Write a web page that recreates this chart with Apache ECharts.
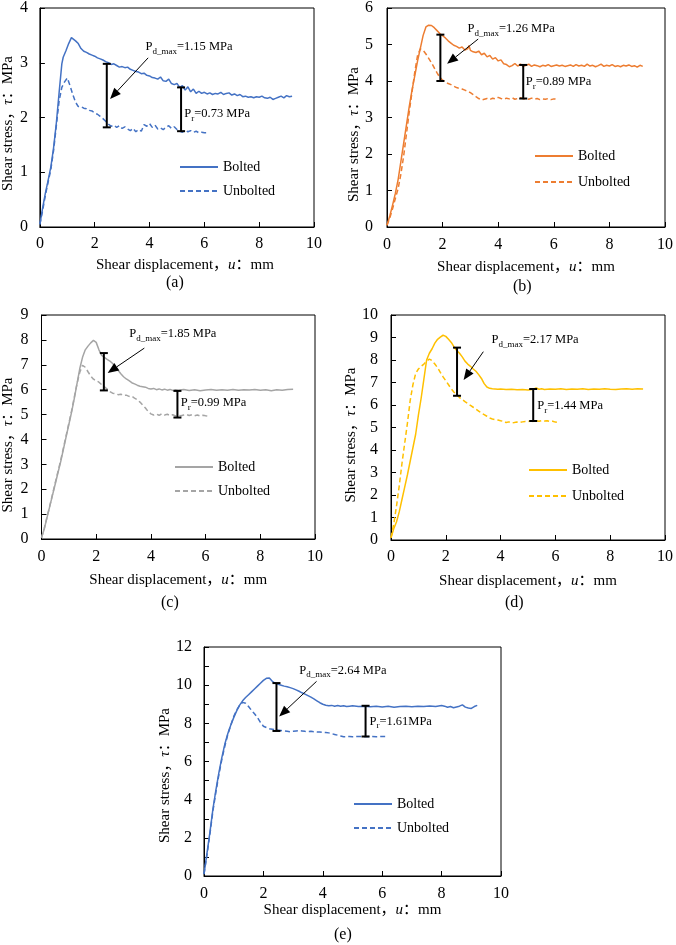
<!DOCTYPE html>
<html><head><meta charset="utf-8">
<script src="https://cdn.jsdelivr.net/npm/echarts@6/dist/echarts.min.js"></script>
<style>html,body{margin:0;padding:0;background:#fff}#c{width:676px;height:945px}</style>
</head><body><div id="c"></div>
<script>
// ---------- data ----------
const xTicks = [0, 2, 4, 6, 8, 10];

// (a)
const a_yMax = 4;
const a_bolted = [[0,0.05],[0.1,0.35],[0.2,0.62],[0.3,0.85],[0.4,1.1],[0.5,1.45],[0.6,1.9],[0.7,2.45],[0.8,2.98],[0.85,3.1],[0.95,3.22],[1.05,3.35],[1.15,3.46],[1.2,3.48],[1.3,3.4],[1.4,3.35],[1.5,3.26],[1.6,3.21],[1.7,3.19],[1.8,3.16],[1.9,3.14],[2.0,3.12],[2.1,3.09],[2.2,3.07],[2.3,3.05],[2.4,3.02],[2.5,3.0],[2.6,2.97],[2.7,2.98],[2.8,2.95],[2.9,2.92],[3.0,2.93],[3.1,2.91],[3.2,2.92],[3.3,2.88],[3.4,2.86],[3.5,2.84],[3.6,2.83],[3.7,2.8],[3.8,2.81],[3.9,2.77],[4.0,2.76],[4.1,2.73],[4.2,2.72],[4.3,2.7],[4.4,2.74],[4.5,2.67],[4.6,2.66],[4.7,2.7],[4.8,2.62],[4.9,2.6],[5.0,2.62],[5.1,2.55],[5.2,2.58],[5.3,2.5],[5.4,2.56],[5.5,2.47],[5.6,2.52],[5.7,2.44],[5.8,2.48],[5.9,2.44],[6.0,2.46],[6.1,2.43],[6.2,2.45],[6.3,2.42],[6.4,2.44],[6.5,2.43],[6.6,2.46],[6.7,2.42],[6.8,2.44],[6.9,2.45],[7.0,2.41],[7.1,2.43],[7.2,2.4],[7.3,2.42],[7.4,2.38],[7.5,2.39],[7.6,2.37],[7.7,2.38],[7.8,2.36],[7.9,2.38],[8.0,2.37],[8.1,2.39],[8.2,2.36],[8.3,2.35],[8.4,2.37],[8.5,2.33],[8.6,2.35],[8.7,2.37],[8.8,2.39],[8.9,2.36],[9.0,2.4],[9.1,2.38],[9.2,2.39]];
const a_unbolted = [[0,0.05],[0.1,0.3],[0.2,0.58],[0.3,0.82],[0.4,1.05],[0.5,1.4],[0.6,1.85],[0.7,2.3],[0.8,2.55],[0.9,2.65],[1.0,2.72],[1.05,2.7],[1.1,2.58],[1.2,2.42],[1.3,2.28],[1.4,2.2],[1.5,2.2],[1.6,2.17],[1.7,2.16],[1.8,2.13],[1.9,2.12],[2.0,2.08],[2.1,2.06],[2.2,2.02],[2.3,1.98],[2.4,1.93],[2.5,1.88],[2.6,1.84],[2.7,1.86],[2.8,1.82],[2.9,1.85],[3.0,1.8],[3.1,1.83],[3.2,1.79],[3.3,1.76],[3.4,1.8],[3.5,1.74],[3.6,1.78],[3.7,1.75],[3.8,1.87],[3.9,1.84],[4.0,1.89],[4.1,1.82],[4.2,1.86],[4.3,1.79],[4.4,1.81],[4.5,1.78],[4.6,1.82],[4.7,1.85],[4.8,1.8],[4.9,1.83],[5.0,1.78],[5.1,1.75],[5.2,1.73],[5.3,1.77],[5.4,1.74],[5.5,1.76],[5.6,1.73],[5.7,1.75],[5.8,1.72],[5.9,1.73],[6.0,1.72],[6.1,1.72]];
const a_bars = [[2.44,1.82,2.98],[5.15,1.75,2.55]];
const a_arrow = [[3.95,3.09,2.56,2.34]];
const a_labels = [[3.85,3.29],[5.27,2.07]];
const a_labelText = [['d_max','=1.15 MPa'],['r','=0.73 MPa']];

// (b)
const b_yMax = 6;
const b_bolted = [[0,0.05],[0.1,0.3],[0.2,0.6],[0.3,0.92],[0.4,1.3],[0.5,1.8],[0.6,2.3],[0.7,2.8],[0.8,3.3],[0.9,3.75],[1.0,4.15],[1.1,4.55],[1.2,4.9],[1.3,5.25],[1.4,5.48],[1.5,5.53],[1.6,5.52],[1.7,5.46],[1.8,5.38],[1.9,5.3],[2.0,5.24],[2.1,5.18],[2.2,5.1],[2.3,5.04],[2.4,4.98],[2.5,4.95],[2.6,4.9],[2.7,4.93],[2.8,4.85],[2.9,4.88],[2.95,4.97],[3.0,4.84],[3.1,4.8],[3.2,4.78],[3.3,4.82],[3.4,4.72],[3.5,4.76],[3.6,4.66],[3.7,4.7],[3.8,4.6],[3.9,4.64],[4.0,4.55],[4.1,4.58],[4.2,4.47],[4.3,4.45],[4.4,4.39],[4.5,4.42],[4.6,4.48],[4.7,4.41],[4.8,4.46],[4.9,4.4],[5.0,4.43],[5.1,4.46],[5.2,4.4],[5.3,4.44],[5.4,4.42],[5.5,4.39],[5.6,4.43],[5.7,4.41],[5.8,4.45],[5.9,4.4],[6.0,4.42],[6.1,4.44],[6.2,4.41],[6.3,4.43],[6.4,4.4],[6.5,4.42],[6.6,4.44],[6.7,4.4],[6.8,4.45],[6.9,4.41],[7.0,4.43],[7.1,4.4],[7.2,4.46],[7.3,4.41],[7.4,4.43],[7.5,4.39],[7.6,4.42],[7.7,4.46],[7.8,4.4],[7.9,4.43],[8.0,4.41],[8.1,4.45],[8.2,4.4],[8.3,4.42],[8.4,4.39],[8.5,4.43],[8.6,4.41],[8.7,4.44],[8.8,4.4],[8.9,4.42],[9.0,4.38],[9.1,4.43],[9.2,4.4]];
const b_unbolted = [[0,0.05],[0.1,0.25],[0.2,0.5],[0.3,0.78],[0.4,1.05],[0.5,1.45],[0.6,1.95],[0.7,2.55],[0.8,3.15],[0.9,3.7],[1.0,4.25],[1.1,4.7],[1.2,4.88],[1.3,4.84],[1.4,4.74],[1.5,4.62],[1.6,4.5],[1.7,4.36],[1.8,4.22],[1.9,4.1],[2.0,4.02],[2.1,3.98],[2.2,3.93],[2.3,3.9],[2.4,3.86],[2.5,3.82],[2.6,3.8],[2.7,3.78],[2.8,3.75],[2.9,3.72],[3.0,3.68],[3.1,3.63],[3.2,3.57],[3.3,3.52],[3.4,3.48],[3.5,3.5],[3.6,3.52],[3.7,3.49],[3.8,3.53],[3.9,3.51],[4.0,3.55],[4.1,3.52],[4.2,3.5],[4.3,3.53],[4.4,3.51],[4.5,3.54],[4.6,3.5],[4.7,3.52],[4.8,3.54],[4.9,3.51],[5.0,3.52],[5.1,3.5],[5.2,3.53],[5.3,3.5],[5.4,3.52],[5.5,3.49],[5.6,3.51],[5.7,3.5],[5.8,3.52],[5.9,3.49],[6.0,3.51],[6.1,3.5]];
const b_bars = [[1.92,4.0,5.27],[4.9,3.52,4.44]];
const b_arrow = [[3.28,5.15,2.16,4.47]];
const b_labels = [[2.9,5.42],[4.99,3.97]];
const b_labelText = [['d_max','=1.26 MPa'],['r','=0.89 MPa']];

// (c)
const c_yMax = 9;
const c_bolted = [[0,0.05],[0.1,0.4],[0.2,0.85],[0.3,1.3],[0.4,1.75],[0.5,2.2],[0.6,2.65],[0.7,3.1],[0.8,3.6],[0.9,4.1],[1.0,4.6],[1.1,5.1],[1.2,5.65],[1.3,6.25],[1.4,6.85],[1.5,7.3],[1.6,7.6],[1.7,7.75],[1.8,7.88],[1.9,7.98],[2.0,7.9],[2.1,7.6],[2.2,7.38],[2.3,7.3],[2.4,7.22],[2.5,7.15],[2.6,7.05],[2.7,6.92],[2.8,6.78],[2.9,6.64],[3.0,6.52],[3.1,6.43],[3.2,6.36],[3.3,6.28],[3.4,6.23],[3.5,6.18],[3.6,6.14],[3.7,6.12],[3.8,6.1],[3.9,6.05],[4.0,6.03],[4.1,6.05],[4.2,6.0],[4.3,6.03],[4.4,5.99],[4.5,6.02],[4.6,5.98],[4.7,6.01],[4.8,5.97],[4.9,6.0],[5.0,5.98],[5.2,6.01],[5.4,5.97],[5.6,6.0],[5.8,5.96],[6.0,5.99],[6.2,6.01],[6.4,5.98],[6.6,6.0],[6.8,5.98],[7.0,6.01],[7.2,5.98],[7.4,6.0],[7.6,5.99],[7.8,6.01],[8.0,5.98],[8.2,6.0],[8.4,5.96],[8.6,6.0],[8.8,5.98],[9.0,6.01],[9.2,6.02]];
const c_unbolted = [[0,0.05],[0.1,0.42],[0.2,0.88],[0.3,1.32],[0.4,1.78],[0.5,2.25],[0.6,2.7],[0.7,3.15],[0.8,3.65],[0.9,4.15],[1.0,4.65],[1.1,5.15],[1.2,5.7],[1.3,6.25],[1.4,6.7],[1.5,6.98],[1.55,7.0],[1.6,6.9],[1.7,6.72],[1.8,6.55],[1.9,6.42],[2.0,6.36],[2.1,6.3],[2.2,6.2],[2.3,6.12],[2.4,6.02],[2.5,5.92],[2.6,5.86],[2.7,5.84],[2.8,5.8],[2.9,5.82],[3.0,5.77],[3.1,5.78],[3.2,5.73],[3.3,5.74],[3.4,5.66],[3.5,5.6],[3.6,5.5],[3.7,5.38],[3.8,5.26],[3.9,5.12],[4.0,5.03],[4.1,4.98],[4.2,5.02],[4.3,4.97],[4.4,5.03],[4.5,4.98],[4.6,5.01],[4.7,4.96],[4.8,4.99],[4.9,4.94],[5.0,4.97],[5.1,4.95],[5.2,4.98],[5.3,5.0],[5.4,4.96],[5.5,4.99],[5.6,4.95],[5.7,4.98],[5.8,4.94],[5.9,4.97],[6.0,4.95],[6.1,4.94]];
const c_bars = [[2.28,5.97,7.47],[4.97,4.88,5.95]];
const c_arrow = [[3.76,7.67,2.42,6.67]];
const c_labels = [[3.21,8.24],[5.09,5.46]];
const c_labelText = [['d_max','=1.85 MPa'],['r','=0.99 MPa']];

// (d)
const d_yMax = 10;
const d_bolted = [[0,0.1],[0.1,0.5],[0.2,0.8],[0.3,1.25],[0.4,1.8],[0.5,2.35],[0.6,2.9],[0.7,3.5],[0.8,4.1],[0.9,4.7],[1.0,5.55],[1.1,6.3],[1.2,7.15],[1.3,8.0],[1.4,8.3],[1.5,8.5],[1.6,8.75],[1.7,8.92],[1.8,9.02],[1.9,9.1],[1.95,9.12],[2.0,9.05],[2.1,8.92],[2.2,8.78],[2.3,8.58],[2.4,8.42],[2.5,8.3],[2.6,8.14],[2.7,7.95],[2.8,7.82],[2.9,7.72],[3.0,7.6],[3.1,7.5],[3.2,7.35],[3.3,7.18],[3.4,6.95],[3.5,6.8],[3.6,6.74],[3.7,6.72],[3.8,6.71],[3.9,6.7],[4.0,6.71],[4.2,6.69],[4.4,6.7],[4.6,6.68],[4.8,6.69],[5.0,6.67],[5.2,6.7],[5.3,6.76],[5.4,6.7],[5.5,6.72],[5.6,6.69],[5.8,6.71],[6.0,6.7],[6.2,6.72],[6.4,6.69],[6.6,6.71],[6.8,6.7],[7.0,6.72],[7.2,6.69],[7.4,6.71],[7.6,6.7],[7.8,6.72],[8.0,6.7],[8.2,6.69],[8.4,6.71],[8.6,6.72],[8.8,6.7],[9.0,6.72],[9.2,6.71]];
const d_unbolted = [[0,0.1],[0.1,0.7],[0.2,1.5],[0.3,2.4],[0.4,3.4],[0.5,4.3],[0.6,5.2],[0.7,6.2],[0.8,6.9],[0.9,7.4],[1.0,7.6],[1.1,7.72],[1.2,7.82],[1.3,7.95],[1.4,8.04],[1.5,7.97],[1.6,7.82],[1.7,7.66],[1.8,7.45],[1.9,7.25],[2.0,7.08],[2.1,6.9],[2.2,6.72],[2.3,6.57],[2.4,6.45],[2.5,6.33],[2.6,6.24],[2.7,6.15],[2.8,6.07],[2.9,5.98],[3.0,5.9],[3.1,5.82],[3.2,5.73],[3.3,5.64],[3.4,5.57],[3.5,5.5],[3.6,5.42],[3.7,5.38],[3.8,5.35],[3.9,5.33],[4.0,5.3],[4.1,5.28],[4.2,5.22],[4.3,5.25],[4.4,5.21],[4.5,5.22],[4.6,5.24],[4.7,5.22],[4.8,5.25],[4.9,5.27],[5.0,5.26],[5.1,5.29],[5.2,5.27],[5.3,5.3],[5.4,5.28],[5.5,5.31],[5.6,5.29],[5.7,5.3],[5.8,5.27],[5.9,5.28],[6.0,5.24],[6.1,5.22]];
const d_bars = [[2.41,6.41,8.55],[5.19,5.29,6.71]];
const d_arrow = [[3.37,8.37,2.65,7.11]];
const d_labels = [[3.67,8.89],[5.34,5.97]];
const d_labelText = [['d_max','=2.17 MPa'],['r','=1.44 MPa']];

// (e)
const e_yMax = 12;
const e_bolted = [[0,0.1],[0.1,1.2],[0.2,2.3],[0.3,3.5],[0.4,4.5],[0.5,5.4],[0.6,6.2],[0.7,6.9],[0.8,7.45],[0.9,7.9],[1.0,8.3],[1.1,8.65],[1.2,8.95],[1.3,9.18],[1.4,9.35],[1.5,9.5],[1.6,9.65],[1.7,9.8],[1.8,9.95],[1.9,10.1],[2.0,10.25],[2.1,10.36],[2.2,10.38],[2.3,10.2],[2.4,10.1],[2.5,10.05],[2.6,10.0],[2.7,9.95],[2.8,9.92],[2.9,9.87],[3.0,9.82],[3.1,9.75],[3.2,9.68],[3.3,9.6],[3.4,9.53],[3.5,9.45],[3.6,9.37],[3.7,9.28],[3.8,9.18],[3.9,9.08],[4.0,9.0],[4.1,8.95],[4.2,8.92],[4.3,8.94],[4.4,8.9],[4.5,8.93],[4.6,8.89],[4.7,8.92],[4.8,8.88],[4.9,8.9],[5.0,8.92],[5.2,8.88],[5.4,8.9],[5.6,8.87],[5.8,8.9],[6.0,8.86],[6.2,8.89],[6.4,8.84],[6.6,8.88],[6.8,8.9],[7.0,8.87],[7.2,8.9],[7.4,8.88],[7.6,8.91],[7.8,8.88],[8.0,8.93],[8.1,8.9],[8.2,8.84],[8.3,8.88],[8.4,8.82],[8.5,8.86],[8.6,8.9],[8.7,8.97],[8.8,8.85],[8.9,8.8],[9.0,8.78],[9.1,8.88],[9.2,8.94]];
const e_unbolted = [[0,0.1],[0.1,1.1],[0.2,2.2],[0.3,3.4],[0.4,4.4],[0.5,5.3],[0.6,6.1],[0.7,6.8],[0.8,7.4],[0.9,7.9],[1.0,8.35],[1.1,8.7],[1.2,8.95],[1.3,9.1],[1.35,9.14],[1.4,9.05],[1.5,8.88],[1.6,8.68],[1.7,8.5],[1.8,8.3],[1.9,8.05],[2.0,7.85],[2.1,7.78],[2.2,7.72],[2.3,7.69],[2.4,7.66],[2.5,7.64],[2.6,7.62],[2.7,7.6],[2.8,7.58],[2.9,7.56],[3.0,7.58],[3.1,7.6],[3.2,7.62],[3.3,7.6],[3.4,7.58],[3.5,7.57],[3.6,7.58],[3.7,7.56],[3.8,7.55],[3.9,7.55],[4.0,7.53],[4.1,7.52],[4.2,7.5],[4.3,7.46],[4.4,7.42],[4.5,7.38],[4.6,7.34],[4.7,7.3],[4.8,7.3],[4.9,7.31],[5.0,7.3],[5.2,7.31],[5.4,7.3],[5.6,7.31],[5.8,7.3],[6.0,7.31],[6.1,7.31]];
const e_bars = [[2.44,7.6,10.11],[5.44,7.31,8.92]];
const e_arrow = [[3.79,10.2,2.53,8.36]];
const e_labels = [[3.21,10.77],[5.57,8.09]];
const e_labelText = [['d_max','=2.64 MPa'],['r','=1.61MPa']];

const seriesNames = ['Bolted', 'Unbolted'];
const panelTags = ['(a)', '(b)', '(c)', '(d)', '(e)'];

// ---------- layout / style ----------
const FONT = '"Liberation Serif","Times New Roman","Noto Sans CJK SC",serif';
const panels = [
  {key:'a', color:'#4472C4', bolted:a_bolted, unbolted:a_unbolted, yMax:a_yMax, yInt:1, bars:a_bars, arrow:a_arrow, labels:a_labels, labelText:a_labelText,
   grid:{left:37, top:5, width:277, height:222}, yLabelMargin:12, yNameGap:17.5, yNamePad:12, xNameGap:31, xNamePadL:16, xLabelMargin:9,
   legend:{left:179, top:160, gap:10}, tag:{left:166, top:275}},
  {key:'b', color:'#ED7D31', bolted:b_bolted, unbolted:b_unbolted, yMax:b_yMax, yInt:1, bars:b_bars, arrow:b_arrow, labels:b_labels, labelText:b_labelText,
   grid:{left:387, top:5, width:282, height:222}, yLabelMargin:14, yNameGap:23.5, yNamePad:34, xNameGap:32.5, xNamePadL:0, xLabelMargin:10,
   legend:{left:534, top:149, gap:12}, tag:{left:513, top:279}},
  {key:'c', color:'#A5A5A5', bolted:c_bolted, unbolted:c_unbolted, yMax:c_yMax, yInt:1, bars:c_bars, arrow:c_arrow, labels:c_labels, labelText:c_labelText,
   grid:{left:40, top:315, width:275, height:224}, yLabelMargin:13, yNameGap:25.5, yNamePad:36, xNameGap:33.5, xNamePadL:0, xLabelMargin:10,
   legend:{left:174, top:460, gap:10}, tag:{left:161, top:595}},
  {key:'d', color:'#FFC000', bolted:d_bolted, unbolted:d_unbolted, yMax:d_yMax, yInt:1, bars:d_bars, arrow:d_arrow, labels:d_labels, labelText:d_labelText,
   grid:{left:391, top:315, width:278, height:225}, yLabelMargin:13, yNameGap:27.5, yNamePad:15, xNameGap:33.5, xNamePadL:0, xLabelMargin:9,
   legend:{left:528, top:463, gap:12}, tag:{left:505, top:595}},
  {key:'e', color:'#4472C4', bolted:e_bolted, unbolted:e_unbolted, yMax:e_yMax, yInt:2, bars:e_bars, arrow:e_arrow, labels:e_labels, labelText:e_labelText,
   grid:{left:204, top:647, width:297, height:229}, yLabelMargin:12, yNameGap:21.5, yNamePad:28, xNameGap:25.5, xNamePadL:0, xLabelMargin:10, minor:true,
   legend:{left:353, top:797, gap:10}, tag:{left:334, top:927}}
];

const grids = [], xAxes = [], yAxes = [], series = [], legends = [], titles = [];
const nameRich = {
  n: {fontFamily: FONT, fontSize: 15, color: '#000'},
  i: {fontFamily: FONT, fontSize: 15, color: '#000', fontStyle: 'italic'}
};
panels.forEach((p, i) => {
  grids.push(Object.assign({show: true, borderColor: '#000', borderWidth: 1, backgroundColor: 'transparent'}, p.grid));
  xAxes.push({
    type: 'value', gridIndex: i, min: xTicks[0], max: xTicks[xTicks.length - 1], interval: xTicks[1] - xTicks[0],
    axisLine: {show: true, lineStyle: {color: '#000', width: 1}},
    axisTick: {show: true, inside: true, length: 5, lineStyle: {color: '#000'}},
    axisLabel: {fontFamily: FONT, fontSize: 16, color: '#000', margin: p.xLabelMargin},
    splitLine: {show: false},
    name: '{n|Shear displacement，}{i|u}{n|：mm}', nameLocation: 'middle', nameGap: p.xNameGap,
    nameTextStyle: {fontFamily: FONT, fontSize: 15, color: '#000', rich: nameRich, padding: [0, 0, 0, p.xNamePadL]}
  });
  yAxes.push({
    type: 'value', gridIndex: i, min: 0, max: p.yMax, interval: p.yInt,
    axisLine: {show: true, lineStyle: {color: '#000', width: 1}},
    axisTick: {show: true, inside: true, length: 5, lineStyle: {color: '#000'}},
    minorTick: {show: !!p.minor, splitNumber: 2, length: 5, lineStyle: {color: '#000'}},
    axisLabel: {fontFamily: FONT, fontSize: 16, color: '#000', margin: p.yLabelMargin},
    splitLine: {show: false},
    name: '{n|Shear stress，}{i|τ}{n|：MPa}', nameLocation: 'middle', nameGap: p.yNameGap, nameRotate: 90,
    nameTextStyle: {fontFamily: FONT, fontSize: 15, color: '#000', rich: nameRich, padding: [0, p.yNamePad, 0, 0]}
  });
  const nb = p.key + ' ' + seriesNames[0], nu = p.key + ' ' + seriesNames[1];
  series.push({
    name: nb, type: 'line', xAxisIndex: i, yAxisIndex: i, data: p.bolted, symbol: 'none', showSymbol: false,
    lineStyle: {color: p.color, width: 1.5, type: 'solid'}, itemStyle: {color: p.color}, z: 3
  });
  series.push({
    name: nu, type: 'line', xAxisIndex: i, yAxisIndex: i, data: p.unbolted, symbol: 'none', showSymbol: false,
    lineStyle: {color: p.color, width: 1.5, type: [5, 3]}, itemStyle: {color: p.color}, z: 3
  });
  // I-shaped difference bars
  series.push({
    type: 'custom', xAxisIndex: i, yAxisIndex: i, data: p.bars, silent: true, z: 5, clip: false,
    renderItem: (params, api) => {
      const x = api.value(0), y1 = api.value(1), y2 = api.value(2);
      const p1 = api.coord([x, y1]), p2 = api.coord([x, y2]);
      const w = 4, st = {stroke: '#000', lineWidth: 2};
      return {type: 'group', children: [
        {type: 'line', shape: {x1: p1[0], y1: p1[1], x2: p2[0], y2: p2[1]}, style: st},
        {type: 'line', shape: {x1: p1[0] - w, y1: p1[1], x2: p1[0] + w, y2: p1[1]}, style: st},
        {type: 'line', shape: {x1: p2[0] - w, y1: p2[1], x2: p2[0] + w, y2: p2[1]}, style: st}
      ]};
    }
  });
  // arrow
  series.push({
    type: 'custom', xAxisIndex: i, yAxisIndex: i, data: p.arrow, silent: true, z: 6, clip: false,
    renderItem: (params, api) => {
      const a = api.coord([api.value(0), api.value(1)]), b = api.coord([api.value(2), api.value(3)]);
      const dx = b[0] - a[0], dy = b[1] - a[1], L = Math.hypot(dx, dy), ux = dx / L, uy = dy / L;
      const hl = 11, hw = 4.5, bx = b[0] - ux * hl, by = b[1] - uy * hl;
      return {type: 'group', children: [
        {type: 'line', shape: {x1: a[0], y1: a[1], x2: bx, y2: by}, style: {stroke: '#000', lineWidth: 1}},
        {type: 'polygon', shape: {points: [[b[0], b[1]], [bx - uy * hw, by + ux * hw], [bx + uy * hw, by - ux * hw]]}, style: {fill: '#000'}}
      ]};
    }
  });
  // text labels
  series.push({
    type: 'custom', xAxisIndex: i, yAxisIndex: i, data: p.labels, silent: true, z: 6, clip: false,
    renderItem: (params, api) => {
      const c = api.coord([api.value(0), api.value(1)]);
      const t = p.labelText[params.dataIndex];
      return {type: 'text', x: c[0], y: c[1], style: {
        text: '{m|P}{s|' + t[0] + '}{m|' + t[1] + '}', align: 'left', verticalAlign: 'middle',
        rich: {
          m: {fontFamily: FONT, fontSize: 12.5, fill: '#000', lineHeight: 18, verticalAlign: 'middle'},
          s: {fontFamily: FONT, fontSize: 9, fill: '#000', lineHeight: 18, verticalAlign: 'bottom'}
        }
      }};
    }
  });
  legends.push({
    data: [nb, nu], orient: 'vertical', left: p.legend.left, top: p.legend.top, padding: 0,
    itemWidth: 38, itemHeight: 14, itemGap: p.legend.gap, selectedMode: false,
    itemStyle: {opacity: 0},
    textStyle: {fontFamily: FONT, fontSize: 14, color: '#000'},
    formatter: n => n.slice(2)
  });
  titles.push({
    text: panelTags[i], left: p.tag.left, top: p.tag.top, padding: 0,
    textStyle: {fontFamily: FONT, fontSize: 16, fontWeight: 'normal', color: '#000'}
  });
});

const chart = echarts.init(document.getElementById('c'), null, {renderer: 'canvas'});
chart.setOption({
  animation: false, backgroundColor: '#fff',
  title: titles, legend: legends, grid: grids, xAxis: xAxes, yAxis: yAxes, series: series
});
</script></body></html>
